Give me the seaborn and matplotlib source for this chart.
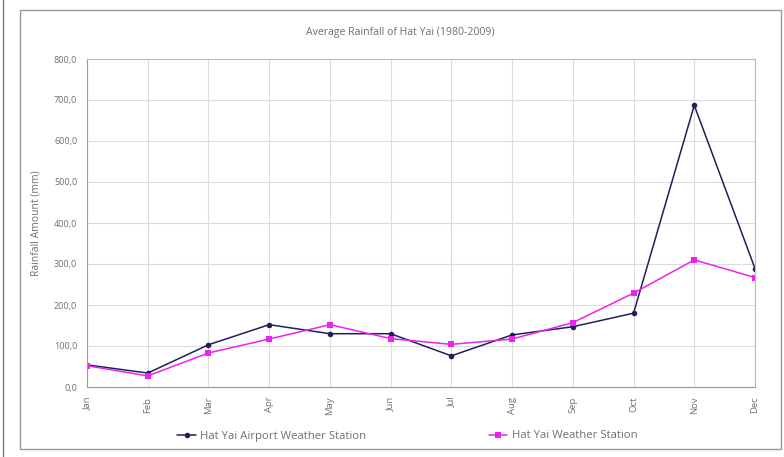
import matplotlib
matplotlib.use("Agg")
import matplotlib.pyplot as plt
from matplotlib.patches import Rectangle
from matplotlib.lines import Line2D
from matplotlib.ticker import FuncFormatter, MultipleLocator
import pandas as pd
import seaborn as sns

months = ["Jan", "Feb", "Mar", "Apr", "May", "Jun",
          "Jul", "Aug", "Sep", "Oct", "Nov", "Dec"]
airport = [54, 34, 103, 152, 130, 130, 76, 127, 147, 180, 687, 289]
town = [52, 27, 83, 117, 152, 118, 104, 117, 157, 229, 310, 267]
series_names = ["Hat Yai Airport Weather Station", "Hat Yai Weather Station"]

df = pd.DataFrame({
    "month": list(range(len(months))) * 2,
    "rain": airport + town,
    "station": [series_names[0]] * len(months) + [series_names[1]] * len(months),
})

sns.set_theme(style="whitegrid")
plt.rcParams["font.family"] = ["Open Sans", "DejaVu Sans"]

text_c = "#707070"
fig = plt.figure(figsize=(7.84, 4.57), dpi=100)
ax = fig.add_axes([87 / 784, 1 - 387 / 457, (755 - 87) / 784, (387 - 59) / 457])

palette = {series_names[0]: "#1f1f5c", series_names[1]: "#ee22ee"}
markers = {series_names[0]: "o", series_names[1]: "s"}
sns.lineplot(data=df, x="month", y="rain", hue="station", style="station",
             palette=palette, markers=markers, dashes=False, markersize=4,
             markeredgewidth=0, linewidth=1.1, ax=ax, legend=False)

ax.set_xlim(0, len(months) - 1)
ax.set_ylim(0, 800)
ax.set_xticks(range(len(months)))
ax.set_xticklabels(months, rotation=90, fontsize=6.8, color=text_c)
ax.yaxis.set_major_locator(MultipleLocator(100))
ax.yaxis.set_major_formatter(FuncFormatter(lambda v, p: f"{v:.1f}".replace(".", ",")))
ax.tick_params(axis="y", labelsize=6.5, labelcolor=text_c)
ax.tick_params(axis="both", which="major", length=4, width=0.8, color="#888888",
               direction="out", pad=3)
ax.set_xlabel("")
ax.set_ylabel("Rainfall Amount (mm)", fontsize=7.5, color=text_c, labelpad=9)
ax.grid(True, color="#dcdcdc", linewidth=0.8)
for side, sp in ax.spines.items():
    sp.set_visible(True)
    sp.set_linewidth(0.8)
    sp.set_color("#999999" if side in ("left", "bottom") else "#bbbbbb")

fig.text(0.511, 1 - 33 / 457, "Average Rainfall of Hat Yai (1980-2009)",
         ha="center", va="center", fontsize=7.6, color=text_c)

handles = [
    Line2D([], [], color=palette[n], marker=markers[n], markersize=4,
           markeredgewidth=0, linewidth=1.1) for n in series_names
]
fig.legend(handles, series_names, loc="center", bbox_to_anchor=(0.5195, 1 - 436 / 457),
           ncol=2, frameon=False, fontsize=8.2, labelcolor=text_c,
           handlelength=1.6, handletextpad=0.4, columnspacing=10.75)

# outer chart frame and page edge
fig.patches.append(Rectangle((20 / 784, 1 - 449 / 457), (781 - 20) / 784, (449 - 10) / 457,
                             transform=fig.transFigure, fill=False,
                             edgecolor="#9a9a9a", linewidth=1.0))
fig.lines.append(Line2D([3 / 784, 3 / 784], [0, 1], transform=fig.transFigure,
                        color="#777777", linewidth=1.0))

fig.savefig("out.png", dpi=100)
